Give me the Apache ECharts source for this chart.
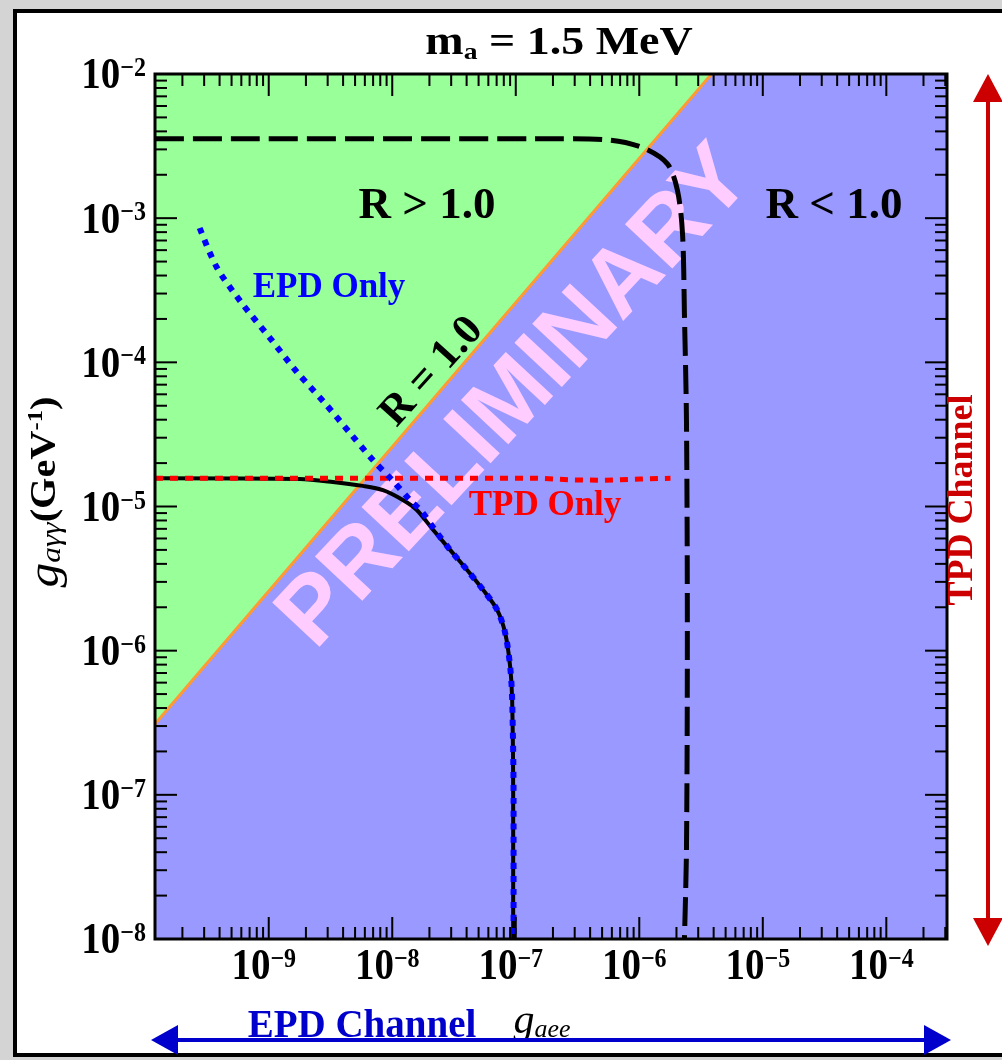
<!DOCTYPE html>
<html>
<head>
<meta charset="utf-8">
<script src="https://cdn.jsdelivr.net/npm/echarts@6/dist/echarts.min.js"></script>
<style>
html,body{margin:0;padding:0;width:1002px;height:1060px;overflow:hidden;background:#d4d4d4;}
#panel{position:absolute;left:13px;top:9px;width:1000px;height:1040px;background:#fff;border:4px solid #000;}
#chart{position:absolute;left:0;top:0;width:1002px;height:1060px;}
</style>
</head>
<body>
<div id="panel"></div>
<div id="chart"></div>
<script>
const SERIF = '"Liberation Serif","Times New Roman",Times,serif';
const SANS = '"Liberation Sans",Arial,Helvetica,sans-serif';

// axis ranges
const xRange = [1.2e-10, 3.1e-4];
const yRange = [1e-8, 1e-2];

// tick positions and labels
const xMajorTicks = [1e-9, 1e-8, 1e-7, 1e-6, 1e-5, 1e-4];
const xTickExponents = ['\u22129', '\u22128', '\u22127', '\u22126', '\u22125', '\u22124'];
const yMajorTicks = [1e-8, 1e-7, 1e-6, 1e-5, 1e-4, 1e-3, 1e-2];
const yTickExponents = ['\u22128', '\u22127', '\u22126', '\u22125', '\u22124', '\u22123', '\u22122'];
const minorMultipliers = [2, 3, 4, 5, 6, 7, 8, 9];
const xDecades = [1e-10, 1e-9, 1e-8, 1e-7, 1e-6, 1e-5, 1e-4];
const yDecades = [1e-8, 1e-7, 1e-6, 1e-5, 1e-4, 1e-3];

// R = 1.0 boundary (g_agg vs g_aee)
const boundaryR1 = [[1.2e-10, 3.1e-7], [3.85e-6, 1e-2]];

// combined limit (long dashed black)
const combinedDashed = [
  [1.2e-10, 3.56e-3], [2.29e-7, 3.56e-3], [5.83e-7, 3.48e-3], [1.08e-6, 3.07e-3],
  [1.69e-6, 2.38e-3], [2.04e-6, 1.55e-3], [2.24e-6, 7.76e-4], [2.32e-6, 2.17e-4],
  [2.41e-6, 3.93e-5], [2.45e-6, 1.27e-6], [2.41e-6, 4.16e-8], [2.32e-6, 1e-8]
];

// combined limit (solid black)
const combinedSolid = [
  [1.2e-10, 1.57e-5], [1.78e-9, 1.55e-5], [3.30e-9, 1.48e-5], [5.78e-9, 1.39e-5],
  [8.41e-9, 1.30e-5], [1.22e-8, 1.11e-5], [1.58e-8, 9.46e-6], [2.14e-8, 6.89e-6],
  [2.94e-8, 5.00e-6], [4.04e-8, 3.63e-6], [5.44e-8, 2.64e-6], [7.07e-8, 1.92e-6],
  [8.20e-8, 1.33e-6], [9.01e-8, 7.73e-7], [9.35e-8, 4.56e-7], [9.53e-8, 9.22e-8],
  [9.53e-8, 1e-8]
];

// EPD only (blue dotted)
const epdOnly = [
  [2.76e-10, 8.55e-4], [3.78e-10, 4.59e-4], [6.04e-10, 2.58e-4], [1.02e-9, 1.48e-4],
  [1.69e-9, 8.57e-5], [2.84e-9, 5.22e-5], [4.54e-9, 3.24e-5], [6.97e-9, 2.10e-5],
  [9.95e-9, 1.53e-5], [1.39e-8, 1.11e-5], [1.74e-8, 9.18e-6], [2.21e-8, 6.89e-6],
  [2.94e-8, 5.00e-6], [4.04e-8, 3.63e-6], [5.44e-8, 2.64e-6], [7.07e-8, 1.92e-6],
  [8.20e-8, 1.33e-6], [9.01e-8, 7.73e-7], [9.35e-8, 4.56e-7], [9.60e-8, 9.22e-8],
  [9.60e-8, 1e-8]
];

// TPD only (red dotted)
const tpdOnly = [
  [1.2e-10, 1.57e-5], [1.5e-7, 1.57e-5], [2.9e-7, 1.53e-5], [5.0e-7, 1.52e-5],
  [1.02e-6, 1.55e-5], [1.79e-6, 1.57e-5]
];

function minorTicks(decades, lo, hi) {
  const out = [];
  decades.forEach(d => minorMultipliers.forEach(m => {
    const v = parseFloat((m * d).toPrecision(4));
    if (v > lo && v < hi) out.push(v);
  }));
  return out;
}

const tickRich = {
  b: {fontFamily: SERIF, fontWeight: 'bold', fontSize: 39, lineHeight: 38, fill: '#000'},
  s: {fontFamily: SERIF, fontWeight: 'bold', fontSize: 24, lineHeight: 12, verticalAlign: 'top', fill: '#000'}
};

function xTickSeries(values, len, labels) {
  return {
    type: 'custom', z: 8, silent: true, clip: false, animation: false,
    data: values.map(v => [v, yRange[0]]),
    renderItem: function (params, api) {
      const v = api.value(0);
      const b = api.coord([v, yRange[0]]);
      const t = api.coord([v, yRange[1]]);
      const children = [
        {type: 'line', shape: {x1: b[0], y1: b[1], x2: b[0], y2: b[1] - len}, style: {stroke: '#000', lineWidth: 2}},
        {type: 'line', shape: {x1: t[0], y1: t[1], x2: t[0], y2: t[1] + len}, style: {stroke: '#000', lineWidth: 2}}
      ];
      if (labels) {
        children.push({type: 'text', x: b[0] - 5, y: b[1] + 7, scaleY: 1.13,
          style: {text: '{b|10}{s|' + labels[params.dataIndex] + '}', rich: tickRich, align: 'center', verticalAlign: 'top'}});
      }
      return {type: 'group', children: children};
    }
  };
}

function yTickSeries(values, len, labels) {
  return {
    type: 'custom', z: 8, silent: true, clip: false, animation: false,
    data: values.map(v => [xRange[0], v]),
    renderItem: function (params, api) {
      const v = api.value(1);
      const l = api.coord([xRange[0], v]);
      const r = api.coord([xRange[1], v]);
      const children = [
        {type: 'line', shape: {x1: l[0], y1: l[1], x2: l[0] + len, y2: l[1]}, style: {stroke: '#000', lineWidth: 2}},
        {type: 'line', shape: {x1: r[0], y1: r[1], x2: r[0] - len, y2: r[1]}, style: {stroke: '#000', lineWidth: 2}}
      ];
      if (labels) {
        children.push({type: 'text', x: l[0] - 9, y: l[1] + 3, scaleY: 1.13,
          style: {text: '{b|10}{s|' + labels[params.dataIndex] + '}', rich: tickRich, align: 'right', verticalAlign: 'middle'}});
      }
      return {type: 'group', children: children};
    }
  };
}

const chart = echarts.init(document.getElementById('chart'), null, {renderer: 'canvas'});

const option = {
  animation: false,
  backgroundColor: 'transparent',
  grid: {left: 155, top: 74, width: 792, height: 865, show: true, backgroundColor: '#9999ff', borderWidth: 0, containLabel: false, outerBoundsMode: 'none'},
  xAxis: {type: 'log', logBase: 10, min: xRange[0], max: xRange[1],
    axisLine: {show: false}, axisTick: {show: false}, axisLabel: {show: false}, splitLine: {show: false}},
  yAxis: {type: 'log', logBase: 10, min: yRange[0], max: yRange[1],
    axisLine: {show: false}, axisTick: {show: false}, axisLabel: {show: false}, splitLine: {show: false}},
  series: [
    { // green region R > 1
      type: 'custom', z: 2, silent: true, clip: true, data: [boundaryR1[0]],
      renderItem: function (params, api) {
        const pts = [boundaryR1[0], boundaryR1[1], [xRange[0], yRange[1]]].map(p => api.coord(p));
        return {type: 'polygon', shape: {points: pts}, style: {fill: '#99ff99'}};
      }
    },
    {type: 'line', data: boundaryR1, symbol: 'none', z: 3, silent: true,
      lineStyle: {color: '#ff9933', width: 3}},
    {type: 'line', data: combinedDashed, symbol: 'none', smooth: 0.3, z: 4, silent: true,
      lineStyle: {color: '#000', width: 5, type: [29, 9]}},
    {type: 'line', data: combinedSolid, symbol: 'none', smooth: 0.3, z: 4, silent: true,
      lineStyle: {color: '#000', width: 4}},
    {type: 'line', data: tpdOnly, symbol: 'none', z: 5, silent: true,
      lineStyle: {color: '#ff0000', width: 5, type: [8, 7]}},
    {type: 'line', data: epdOnly, symbol: 'none', smooth: 0.3, z: 6, silent: true,
      lineStyle: {color: '#0000ff', width: 6, type: [6, 7]}},
    xTickSeries(xMajorTicks, 22, xTickExponents),
    xTickSeries(minorTicks(xDecades, xRange[0], xRange[1]), 12, null),
    yTickSeries(yMajorTicks.filter(v => v > yRange[0] && v < yRange[1]), 22, null),
    yTickSeries(yMajorTicks, 0, yTickExponents),
    yTickSeries(minorTicks(yDecades, yRange[0], yRange[1]), 12, null),
    { // frame
      type: 'custom', z: 9, silent: true, clip: false, data: [[xRange[0], yRange[0]]],
      renderItem: function (params, api) {
        const a = api.coord([xRange[0], yRange[1]]);
        const b = api.coord([xRange[1], yRange[0]]);
        return {type: 'rect', shape: {x: a[0], y: a[1], width: b[0] - a[0], height: b[1] - a[1]},
          style: {fill: 'none', stroke: '#000', lineWidth: 3}};
      }
    }
  ],
  graphic: [
    {type: 'text', x: 516, y: 398, rotation: 47 * Math.PI / 180, z: 1, silent: true,
      style: {text: 'PRELIMINARY', fontFamily: SANS, fontWeight: 'bold', fontSize: 94, fill: '#ffccff', align: 'center', verticalAlign: 'middle'}},
    {type: 'text', x: 559, y: 44, scaleX: 1.15, z: 20, silent: true,
      style: {text: '{m|m}{a|a}{t| = 1.5 MeV}', align: 'center', verticalAlign: 'middle', rich: {
        m: {fontFamily: SERIF, fontWeight: 'bold', fontSize: 40, lineHeight: 42, fill: '#000'},
        a: {fontFamily: SERIF, fontWeight: 'bold', fontSize: 24, lineHeight: 12, verticalAlign: 'bottom', fill: '#000'},
        t: {fontFamily: SERIF, fontWeight: 'bold', fontSize: 40, lineHeight: 42, fill: '#000'}
      }}},
    {type: 'text', x: 427, y: 206, z: 20, silent: true,
      style: {text: 'R > 1.0', fontFamily: SERIF, fontWeight: 'bold', fontSize: 45, fill: '#000', align: 'center', verticalAlign: 'middle'}},
    {type: 'text', x: 834, y: 206, z: 20, silent: true,
      style: {text: 'R < 1.0', fontFamily: SERIF, fontWeight: 'bold', fontSize: 45, fill: '#000', align: 'center', verticalAlign: 'middle'}},
    {type: 'text', x: 432, y: 372, rotation: 48 * Math.PI / 180, z: 20, silent: true,
      style: {text: 'R = 1.0', fontFamily: SERIF, fontWeight: 'bold', fontSize: 43, fill: '#000', align: 'center', verticalAlign: 'middle'}},
    {type: 'text', x: 329, y: 288, z: 20, silent: true,
      style: {text: 'EPD Only', fontFamily: SERIF, fontWeight: 'bold', fontSize: 35, fill: '#0000ff', align: 'center', verticalAlign: 'middle'}},
    {type: 'text', x: 545, y: 506, z: 20, silent: true,
      style: {text: 'TPD Only', fontFamily: SERIF, fontWeight: 'bold', fontSize: 35, fill: '#ff0000', align: 'center', verticalAlign: 'middle'}},
    // x axis title
    {type: 'text', x: 542, y: 1022, z: 20, silent: true,
      style: {text: '{g|g}{s|aee}', align: 'center', verticalAlign: 'middle', rich: {
        g: {fontFamily: SERIF, fontStyle: 'italic', fontSize: 42, lineHeight: 42, fill: '#000'},
        s: {fontFamily: SERIF, fontStyle: 'italic', fontSize: 26, lineHeight: 16, verticalAlign: 'bottom', fill: '#000'}
      }}},
    // y axis title
    {type: 'text', x: 46, y: 492, rotation: Math.PI / 2, scaleX: 1.12, z: 20, silent: true,
      style: {text: '{g|g}{s|a\u03b3\u03b3}{b|(GeV}{p|-1}{b|)}', align: 'center', verticalAlign: 'middle', rich: {
        g: {fontFamily: SERIF, fontStyle: 'italic', fontSize: 44, lineHeight: 42, fill: '#000'},
        s: {fontFamily: SERIF, fontStyle: 'italic', fontSize: 28, lineHeight: 16, verticalAlign: 'bottom', fill: '#000'},
        b: {fontFamily: SERIF, fontWeight: 'bold', fontSize: 36, lineHeight: 42, fill: '#000'},
        p: {fontFamily: SERIF, fontWeight: 'bold', fontSize: 22, lineHeight: 14, verticalAlign: 'top', fill: '#000'}
      }}},
    // EPD channel arrow
    {type: 'line', z: 20, silent: true, shape: {x1: 172, y1: 1040, x2: 930, y2: 1040}, style: {stroke: '#0000cc', lineWidth: 4}},
    {type: 'polygon', z: 20, silent: true, shape: {points: [[151, 1040], [178, 1025], [178, 1055]]}, style: {fill: '#0000cc'}},
    {type: 'polygon', z: 20, silent: true, shape: {points: [[951, 1040], [924, 1025], [924, 1055]]}, style: {fill: '#0000cc'}},
    {type: 'text', x: 362, y: 1027, z: 20, silent: true,
      style: {text: 'EPD Channel', fontFamily: SERIF, fontWeight: 'bold', fontSize: 39, fill: '#0000cc', align: 'center', verticalAlign: 'middle'}},
    // TPD channel arrow
    {type: 'line', z: 20, silent: true, shape: {x1: 988, y1: 96, x2: 988, y2: 924}, style: {stroke: '#cc0000', lineWidth: 4}},
    {type: 'polygon', z: 20, silent: true, shape: {points: [[988, 74], [973, 102], [1003, 102]]}, style: {fill: '#cc0000'}},
    {type: 'polygon', z: 20, silent: true, shape: {points: [[988, 946], [973, 918], [1003, 918]]}, style: {fill: '#cc0000'}},
    {type: 'text', x: 963, y: 500, rotation: Math.PI / 2, z: 20, silent: true,
      style: {text: 'TPD Channel', fontFamily: SERIF, fontWeight: 'bold', fontSize: 36, fill: '#cc0000', align: 'center', verticalAlign: 'middle'}}
  ]
};

chart.setOption(option);
</script>
</body>
</html>
